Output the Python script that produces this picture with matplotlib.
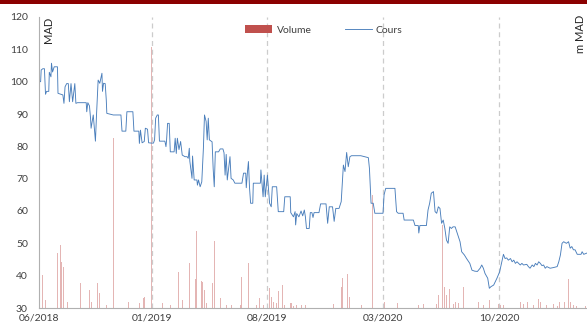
import numpy as np
import pandas as pd
import matplotlib
matplotlib.use("Agg")
import matplotlib.pyplot as plt
from matplotlib.patches import Patch, Rectangle

plt.rcParams['font.family'] = ['Lato', 'DejaVu Sans']

# Start of the series, offsets below are in calendar days from this date
start_date = pd.Timestamp('2018-06-06')

# Cours (MAD)
price_days = [
    0, 3, 4, 7, 10, 12, 14, 18, 19, 22, 23, 25, 28, 34, 35, 44, 46, 48, 51, 54,
    56, 59, 62, 66, 68, 71, 87, 88, 90, 93, 95, 96, 100, 104, 106, 109, 112, 116, 117, 119,
    122, 124, 125, 137, 151, 153, 160, 162, 173, 175, 184, 185, 187, 190, 194, 196, 200, 202, 207,
    211, 213, 215, 218, 220, 222, 232, 234, 235, 237, 240, 242, 249, 251, 253, 255, 258, 261, 264, 269,
    273, 275, 277, 278, 282, 283, 286, 291, 292, 294, 297, 300, 303, 305, 308, 310, 312, 314, 319, 321,
    323, 325, 331, 334, 339, 341, 343, 345, 347, 352, 354, 358, 361, 374, 377, 381, 382, 384, 386, 388,
    390, 394, 395, 408, 409, 413, 415,
    417, 421, 425, 428, 430, 438, 441, 451, 453, 463, 464, 469, 472, 473, 475, 479, 483, 486, 489, 491,
    493, 498, 500, 503, 505, 507, 516, 519, 529, 532, 535, 541, 544, 547, 553, 557, 561, 564, 567, 570,
    573, 576, 593, 607, 609, 612, 616, 619, 634,
    636, 639, 656, 659, 662, 671, 673, 690, 693, 699, 700, 702, 714, 717, 720, 723, 727, 730, 733, 736,
    739, 742, 745, 748, 751, 754, 757, 760, 763, 767, 770, 773, 776, 779, 784, 788, 794, 798, 803, 808,
    813, 816, 819, 822, 827, 830, 833, 838,
    844, 849, 853, 856, 859, 862, 865, 869, 872, 875, 878, 881, 884, 887, 890, 893, 899, 902, 905, 909,
    912, 915, 918, 921, 924, 927, 930, 933, 936, 942, 948, 955, 958, 961, 964, 967, 972, 976, 979, 982,
    985, 988, 992, 999, 1001, 1004, 1010,
]
price_values = [
    100.0, 100.0, 103.6, 104.0, 104.0, 96.1, 97.0, 97.0, 102.9, 101.5, 105.7, 103.0, 104.6, 104.6, 96.4, 95.9, 93.3, 98.4, 99.4, 99.4,
    93.8, 99.4, 93.8, 99.4, 93.3, 93.5, 93.5, 90.7, 93.5, 92.5, 88.7, 85.6, 89.7, 81.6, 89.7, 100.5, 99.5, 102.6, 97.0, 99.5,
    99.4, 94.3, 90.2, 89.7, 89.7, 84.7, 84.7, 90.7, 90.7, 84.7, 84.7, 80.9, 85.0, 81.1, 81.5, 85.6, 85.3, 81.1, 81.0,
    81.0, 82.0, 88.7, 89.7, 89.7, 81.6, 81.6, 79.9, 81.6, 87.1, 87.1, 78.3, 78.3, 82.5, 77.8, 82.5, 79.0, 81.5, 77.3, 76.8,
    76.8, 76.3, 79.4, 75.4, 70.1, 77.0, 69.6, 69.6, 68.0, 69.6, 67.5, 69.0, 79.4, 89.7, 87.7, 82.0, 88.7, 82.0, 81.4, 73.1,
    67.5, 78.3, 78.3, 79.2, 79.2, 78.0, 71.1, 77.5, 69.6, 76.8, 70.1, 69.6, 68.6, 68.6, 71.7, 71.7, 67.2, 71.7, 75.3, 67.2,
    62.4, 62.4, 68.6, 68.6, 72.7, 64.4, 71.1,
    64.4, 71.1, 62.4, 61.3, 67.5, 67.5, 59.8, 59.8, 64.4, 64.4, 59.5, 58.2, 59.8, 55.7, 59.2, 58.2, 60.0, 58.5, 60.3, 58.2,
    54.6, 54.6, 59.5, 59.5, 58.0, 59.5, 59.5, 62.2, 62.2, 56.2, 61.3, 61.3, 56.8, 60.8, 60.8, 62.9, 74.2, 72.2, 78.1, 73.7,
    76.8, 77.1, 77.1, 76.5, 73.2, 62.4, 62.4, 59.3, 59.3,
    65.0, 67.0, 67.0, 59.8, 59.3, 59.3, 57.2, 57.2, 55.5, 55.5, 53.2, 55.5, 55.5, 60.3, 62.4, 65.5, 66.0, 59.8, 59.3, 61.3,
    60.8, 56.2, 57.2, 54.6, 51.0, 50.0, 55.1, 54.6, 55.1, 55.1, 53.6, 52.1, 50.5, 47.4, 46.4, 45.3, 43.8, 41.7, 41.4, 41.3,
    42.3, 43.3, 42.3, 40.7, 39.2, 36.1, 36.6, 37.1,
    39.2, 41.2, 44.3, 46.6, 45.3, 45.5, 44.8, 45.3, 44.3, 44.8, 43.8, 44.3, 43.8, 43.3, 43.8, 43.3, 43.5, 42.8, 42.3, 43.3,
    42.8, 43.8, 43.3, 44.3, 43.8, 43.1, 43.3, 42.3, 42.8, 42.3, 42.5, 42.8, 44.3, 46.4, 50.0, 50.5, 50.0, 50.5, 48.5, 49.0,
    48.0, 48.0, 46.6, 46.6, 47.4, 46.6, 47.0,
]

# Volume (m MAD)
volume_days = [
    6, 12, 22, 26, 34, 39, 41, 45, 48, 53, 57, 61, 70, 72, 76, 79, 93, 97, 108, 109,
    111, 116, 124, 137, 144, 151, 165, 179, 185, 192, 194, 207, 214, 228, 242, 249, 257, 264, 267, 277,
    282, 289, 290, 297, 299, 301, 305, 309, 317, 320, 323, 334, 346, 352, 355, 363, 371, 373, 376, 386,
    389, 401, 406, 411, 414, 425, 426, 429, 432, 438, 441, 449, 452, 457, 463, 466, 469, 475, 479, 484,
    491, 505, 518, 540, 543, 555, 558, 560, 562, 564, 569, 572, 577, 595, 610, 612, 615, 637, 660, 661,
    699, 709, 730, 733, 736, 744, 747, 751, 754, 757, 764, 767, 773, 782, 789, 798, 810, 813, 819, 830,
    835, 847, 850, 856, 881, 887, 893, 900, 905, 912, 921, 924, 936, 948, 955, 959, 964, 966, 968, 976,
    979, 985, 991, 1001, 1007,
]
volume_values = [
    10.2, 2.5, 16.4, 1.4, 16.9, 19.5, 14.3, 12.8, 2.5, 2.0, 3.0, 1.5, 4.6, 5.0, 7.6, 1.5, 5.6, 1.8, 7.6, 5.0,
    4.6, 1.5, 1.0, 52.5, 2.7, 1.0, 2.0, 1.0, 1.5, 3.0, 3.5, 80.8, 1.0, 1.5, 1.0, 5.0, 11.0, 2.5, 2.0, 14.0,
    1.5, 8.9, 23.8, 7.6, 8.2, 8.0, 5.5, 1.5, 2.0, 7.8, 20.8, 3.0, 1.0, 3.2, 0.8, 10.0, 1.0, 9.5, 1.0, 14.0,
    6.0, 1.0, 3.0, 8.9, 0.8, 6.1, 5.0, 3.5, 1.8, 1.5, 5.3, 7.1, 1.0, 11.2, 1.5, 1.5, 0.7, 1.0, 1.2, 0.8,
    1.0, 0.8, 1.5, 6.1, 1.2, 4.0, 6.6, 9.2, 30.3, 8.6, 10.5, 3.5, 1.5, 0.8, 22.6, 3.0, 34.9, 2.0, 25.7, 1.5,
    0.8, 1.2, 49.9, 1.2, 4.0, 25.7, 6.5, 4.0, 19.0, 5.9, 1.2, 2.0, 1.5, 6.4, 0.8, 1.2, 2.0, 1.2, 1.0, 2.6,
    0.8, 1.2, 1.0, 0.8, 10.4, 1.8, 1.2, 2.0, 1.5, 0.8, 2.9, 2.0, 0.8, 1.2, 0.6, 1.8, 7.6, 8.4, 1.8, 9.0,
    1.8, 1.0, 0.6, 0.8, 0.6,
]

tick_dates = ['2018-06-06', '2019-01-01', '2019-08-01', '2020-03-01', '2020-10-01']
tick_labels = ['06/2018', '01/2019', '08/2019', '03/2020', '10/2020']

price_dates = start_date + pd.to_timedelta(price_days, unit='D')
volume_dates = start_date + pd.to_timedelta(volume_days, unit='D')
end_date = start_date + pd.Timedelta(days=1010)

fig = plt.figure(figsize=(5.87, 3.29), dpi=100)
ax = fig.add_axes([39 / 587, 21 / 329, 548 / 587, 291 / 329])
ax_vol = ax.twinx()

# bars behind, price line on top
ax.set_zorder(ax_vol.get_zorder() + 1)
ax.patch.set_visible(False)

ax_vol.bar(volume_dates, volume_values, width=1.3, color='#c0504d', alpha=0.42, linewidth=0)
ax_vol.set_ylim(0, 90)
ax_vol.set_yticks([])
for s in ax_vol.spines.values():
    s.set_visible(False)

line, = ax.plot(price_dates, price_values, color='#4a7ebb', lw=0.65)

ax.set_ylim(30, 120)
ax.set_yticks(np.arange(30, 121, 10))
ax.set_xlim(start_date, end_date)
ax.set_xticks(pd.to_datetime(tick_dates))
ax.set_xticklabels(tick_labels)

ax.tick_params(axis='both', length=0, labelsize=7.5, colors='#404040')
ax.tick_params(axis='y', pad=8)
ax.tick_params(axis='x', pad=4)

for d in tick_dates[1:]:
    ax.axvline(pd.Timestamp(d), color='#cccccc', lw=0.9, ls=(0, (4, 3)), zorder=0)

ax.spines['top'].set_visible(False)
ax.spines['right'].set_visible(False)
ax.spines['left'].set_color('#b0b0b0')
ax.spines['bottom'].set_color('#b0b0b0')
ax.spines['left'].set_linewidth(0.8)
ax.spines['bottom'].set_linewidth(0.8)

ax.text(0.018, 1.0, 'MAD', transform=ax.transAxes, rotation=90, ha='center', va='top',
        fontsize=8, color='#262626')
fig.text(586.5 / 587, 1 - 15 / 329, 'm MAD', rotation=90, ha='right', va='top',
         fontsize=8, color='#262626')

handles = [Patch(facecolor='#c0504d', edgecolor='none'), line]
fig.legend(handles, ['Volume', 'Cours'], loc='center', ncol=2, frameon=False,
           bbox_to_anchor=(324 / 587, 1 - 30 / 329), fontsize=7.5, handlelength=2.6,
           handleheight=0.7, handletextpad=0.4, columnspacing=3.2, labelcolor='#404040')

# dark red band along the top
fig.patches.append(Rectangle((0, 1 - 4 / 329), 1, 4 / 329, transform=fig.transFigure,
                             facecolor='#8b0000', edgecolor='none'))

fig.savefig('out.png', dpi=100)
